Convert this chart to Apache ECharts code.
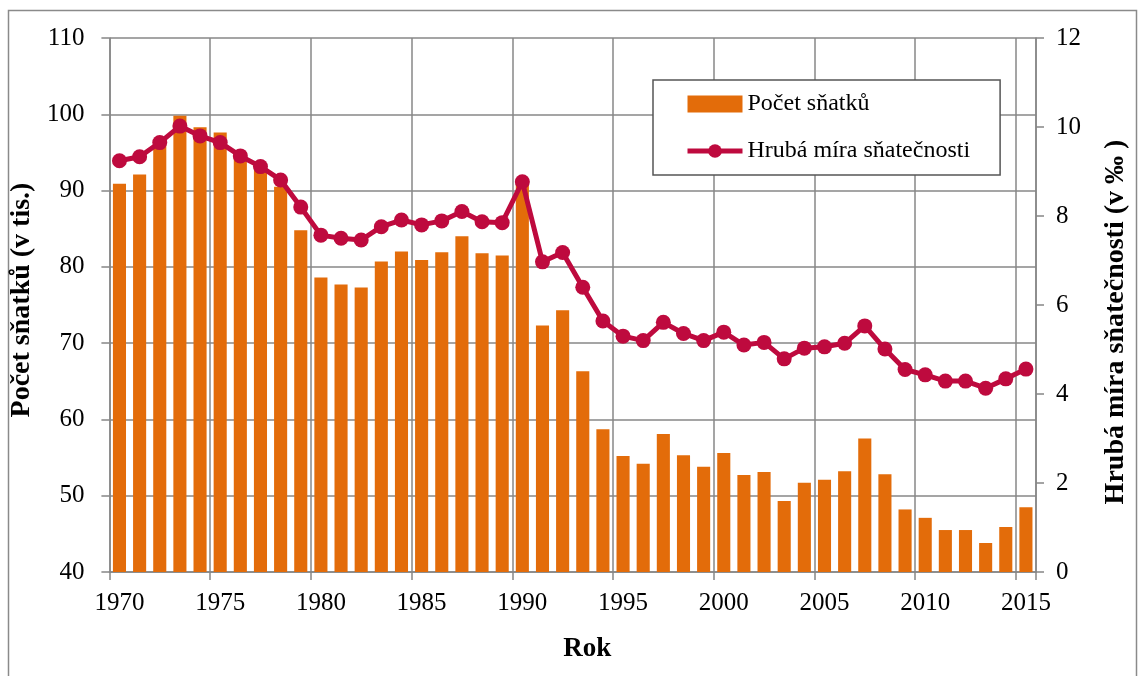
<!DOCTYPE html>
<html>
<head>
<meta charset="utf-8">
<script src="https://cdn.jsdelivr.net/npm/echarts@6/dist/echarts.min.js"></script>
<style>
  html, body { margin: 0; padding: 0; background: #fff; }
  #chart { width: 1138px; height: 676px; }
</style>
</head>
<body>
<div id="chart"></div>
<script>
// data
var roky = [];
for (var r = 1970; r <= 2015; r++) roky.push(String(r));

// počet sňatků (v tis.)
var pocetSnatku = [
  90.9, 92.1, 96.0, 99.8, 98.3, 97.6, 95.0, 93.0, 90.5, 84.8,
  78.6, 77.7, 77.3, 80.7, 82.0, 80.9, 81.9, 84.0, 81.8, 81.5,
  90.9, 72.3, 74.3, 66.3, 58.7, 55.2, 54.2, 58.1, 55.3, 53.8,
  55.6, 52.7, 53.1, 49.3, 51.7, 52.1, 53.2, 57.5, 52.8, 48.2,
  47.1, 45.5, 45.5, 43.8, 45.9, 48.5
];

// hrubá míra sňatečnosti (v ‰)
var hrubaMira = [
  9.24, 9.33, 9.65, 10.02, 9.8, 9.65, 9.35, 9.11, 8.81, 8.2,
  7.57, 7.5, 7.46, 7.76, 7.91, 7.8, 7.89, 8.1, 7.87, 7.85,
  8.77, 6.97, 7.18, 6.4, 5.64, 5.3, 5.2, 5.61, 5.36, 5.2,
  5.39, 5.1, 5.16, 4.79, 5.03, 5.06, 5.14, 5.53, 5.01, 4.55,
  4.43, 4.29, 4.29, 4.13, 4.34, 4.56
];

// osy: [min, max, krok]
var levaOsa = [40, 110, 10];
var pravaOsa = [0, 12, 2];

var font = "'Liberation Serif', 'Times New Roman', serif";
var seda = '#878787';
var oranzova = '#E36C0A';
var cervena = '#BE0A3E';

var chart = echarts.init(document.getElementById('chart'));

var option = {
  animation: false,
  textStyle: { fontFamily: font, color: '#000' },
  graphic: [{
    type: 'rect',
    shape: { x: 8.5, y: 10.5, width: 1128, height: 670 },
    style: { fill: 'none', stroke: '#8a8a8a', lineWidth: 1.5 },
    silent: true
  }],
  grid: { left: 108, top: 38, right: 93, bottom: 104 },
  legend: {
    orient: 'vertical',
    left: 653,
    top: 80,
    padding: [12, 30, 12, 32],
    itemGap: 23,
    itemWidth: 55,
    itemHeight: 17,
    backgroundColor: '#fff',
    borderColor: '#555',
    borderWidth: 1.5,
    borderRadius: 0,
    textStyle: { fontFamily: font, fontSize: 24, color: '#000' },
    data: [
      { name: 'Počet sňatků', icon: 'rect' },
      { name: 'Hrubá míra sňatečnosti', lineStyle: { width: 5 } }
    ]
  },
  xAxis: {
    type: 'category',
    data: roky,
    boundaryGap: true,
    name: 'Rok',
    nameLocation: 'middle',
    nameGap: 64,
    nameTextStyle: { fontFamily: font, fontSize: 27, fontWeight: 'bold', color: '#000', padding: [0, 0, 0, 29] },
    axisLine: { lineStyle: { color: seda, width: 1.5 } },
    axisTick: { show: true, interval: 4, length: 8, alignWithLabel: false, lineStyle: { color: seda, width: 1.5 } },
    axisLabel: { interval: 4, fontFamily: font, fontSize: 25, color: '#000', margin: 19 },
    splitLine: { show: true, interval: 4, lineStyle: { color: seda, width: 1.5 } }
  },
  yAxis: [{
    type: 'value',
    min: levaOsa[0],
    max: levaOsa[1],
    interval: levaOsa[2],
    name: 'Počet sňatků (v tis.)',
    nameLocation: 'middle',
    nameGap: 64,
    nameTextStyle: { fontFamily: font, fontSize: 28, fontWeight: 'bold', color: '#000', padding: [0, 0, 0, 10] },
    axisLine: { show: true, lineStyle: { color: seda, width: 1.5 } },
    axisTick: { show: true, length: 8, lineStyle: { color: seda, width: 1.5 } },
    axisLabel: { fontFamily: font, fontSize: 25, color: '#000', margin: 25 },
    splitLine: { show: true, lineStyle: { color: seda, width: 1.5 } }
  }, {
    type: 'value',
    position: 'right',
    min: pravaOsa[0],
    max: pravaOsa[1],
    interval: pravaOsa[2],
    name: 'Hrubá míra sňatečnosti (v ‰ )',
    nameLocation: 'middle',
    nameGap: 66,
    nameTextStyle: { fontFamily: font, fontSize: 28, fontWeight: 'bold', color: '#000', padding: [0, 34, 0, 0] },
    axisLine: { show: true, lineStyle: { color: seda, width: 1.5 } },
    axisTick: { show: true, length: 8, lineStyle: { color: seda, width: 1.5 } },
    axisLabel: { fontFamily: font, fontSize: 25, color: '#000', margin: 20 },
    splitLine: { show: false }
  }],
  series: [{
    name: 'Počet sňatků',
    type: 'bar',
    data: pocetSnatku,
    barCategoryGap: '35%',
    itemStyle: { color: oranzova }
  }, {
    name: 'Hrubá míra sňatečnosti',
    type: 'line',
    yAxisIndex: 1,
    data: hrubaMira,
    symbol: 'circle',
    symbolSize: 15,
    showAllSymbol: true,
    z: 5,
    lineStyle: { color: cervena, width: 5 },
    itemStyle: { color: cervena }
  }]
};

chart.setOption(option);
</script>
</body>
</html>
